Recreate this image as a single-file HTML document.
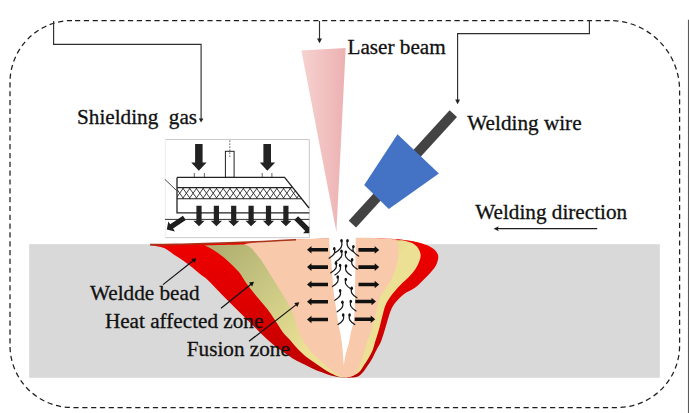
<!DOCTYPE html>
<html>
<head>
<meta charset="utf-8">
<style>
html,body{margin:0;padding:0;background:#fff;}
body{width:689px;height:413px;overflow:hidden;position:relative;}
svg{position:absolute;left:0;top:0;display:block;}
text{font-family:"Liberation Serif",serif;font-size:21.2px;fill:#111;stroke:#111;stroke-width:0.3px;}
</style>
</head>
<body>
<svg width="689" height="413" viewBox="0 0 689 413">
<defs>
  <linearGradient id="laser" x1="0" y1="0" x2="1" y2="0">
    <stop offset="0" stop-color="#f6d2cf"/>
    <stop offset="1" stop-color="#ecb1b2"/>
  </linearGradient>
  <linearGradient id="redg" gradientUnits="userSpaceOnUse" x1="0" y1="250" x2="0" y2="377">
    <stop offset="0" stop-color="#ec0000"/>
    <stop offset="0.4" stop-color="#de0000"/>
    <stop offset="1" stop-color="#bc0000"/>
  </linearGradient>
  <linearGradient id="olive" gradientUnits="userSpaceOnUse" x1="215" y1="250" x2="310" y2="345">
    <stop offset="0" stop-color="#b1b070"/>
    <stop offset="0.45" stop-color="#c8c682"/>
    <stop offset="1" stop-color="#ebe094"/>
  </linearGradient>
</defs>

<!-- right edge gray line -->
<line x1="688.5" y1="19.8" x2="688.5" y2="413" stroke="#5a5a5a" stroke-width="1.1"/>

<!-- dashed rounded border -->
<path d="M72,20.5 H609.6 A70,70 0 0 1 679.6,90.5 V345.5 A62,62 0 0 1 617.6,407.5 H72 A62,62 0 0 1 10,345.5 V82.5 A62,62 0 0 1 72,20.5 Z" fill="none" stroke="#1e1e1e" stroke-width="1.25" stroke-dasharray="5.2 3.625" stroke-dashoffset="5.8"/>

<!-- connectors -->
<polyline points="53.6,21 53.6,44.3 201.1,44.3 201.1,120" fill="none" stroke="#2e2e2e" stroke-width="1.15"/>
<path d="M198.8,118.4 L203.4,118.4 L201.1,122.6 Z" fill="#222"/>
<polyline points="589.4,21 589.4,33.6 457.6,33.6 457.6,100.5" fill="none" stroke="#2e2e2e" stroke-width="1.15"/>
<path d="M455.2,99.6 L460,99.6 L457.6,104.3 Z" fill="#222"/>
<line x1="319.5" y1="21" x2="319.5" y2="39.5" stroke="#2e2e2e" stroke-width="1.15"/>
<path d="M317,38.4 L322,38.4 L319.5,43.2 Z" fill="#222"/>

<!-- labels -->
<text x="347.5" y="53.8" transform="matrix(1,0,0,1.03,0,-1.61)">Laser beam</text>
<text x="77" y="124" transform="matrix(1,0,0,1.03,0,-3.72)" xml:space="preserve">Shielding  gas</text>
<text x="467.3" y="129.6" transform="matrix(1,0,0,1.03,0,-3.89)">Welding wire</text>
<text x="475.2" y="218.7" transform="matrix(1,0,0,1.03,0,-6.56)">Welding direction</text>

<!-- welding direction arrow -->
<line x1="497" y1="228.7" x2="597.2" y2="228.7" stroke="#1e1e1e" stroke-width="1.3"/>
<path d="M493.6,228.7 L498.8,226.2 L497.6,228.7 L498.8,231.2 Z" fill="#1a1a1a"/>

<!-- laser cone -->
<path d="M301.4,50.5 L345.7,48 L336.4,232 Z" fill="url(#laser)"/>

<!-- base plate -->
<rect x="29.2" y="244.2" width="630.6" height="133.6" fill="#d9d9d9"/>

<!-- weld -->
<path d="M147.0,244.9 C151.7,244.8 165.3,244.6 175.0,244.4 C184.7,244.2 191.7,244.0 205.0,243.6 C218.3,243.2 239.2,242.6 255.0,241.9 C270.8,241.2 283.3,240.2 300.0,239.6 C316.7,238.9 339.3,238.1 355.0,238.0 C370.7,237.9 385.7,238.6 394.0,238.9 C402.3,239.2 403.2,239.8 405.0,240.0 C406.9,240.3 412.9,241.1 416.6,242.0 C420.3,242.9 424.4,244.1 427.3,245.3 C430.2,246.5 432.2,247.8 434.0,249.3 C435.8,250.9 437.2,252.8 437.9,254.6 C438.5,256.4 438.3,258.0 437.9,260.0 C437.5,262.0 436.6,264.4 435.3,266.6 C434.0,268.8 432.0,271.1 430.0,273.3 C428.0,275.5 425.8,277.6 423.3,280.0 C420.9,282.4 418.6,285.1 415.3,287.5 C412.0,289.9 406.8,291.9 403.5,294.4 C400.2,296.9 397.7,299.7 395.6,302.3 C393.5,304.9 392.2,307.3 390.9,310.2 C389.6,313.1 388.9,316.2 387.8,319.6 C386.8,323.0 385.7,327.0 384.6,330.6 C383.5,334.2 382.3,338.3 381.0,341.5 C379.7,344.7 378.0,347.1 376.6,349.7 C375.2,352.3 374.2,354.8 372.8,357.4 C371.4,360.0 369.5,362.8 367.9,365.2 C366.3,367.6 364.9,370.1 363.1,372.0 C361.3,373.9 359.8,375.8 357.3,376.8 C354.8,377.8 349.6,377.6 348.0,377.8 C346.6,377.7 342.7,377.7 339.8,377.3 C336.9,376.9 333.8,376.3 330.8,375.5 C327.8,374.7 324.9,373.4 321.9,372.3 C318.9,371.2 315.9,370.0 312.9,368.7 C309.9,367.4 307.0,365.8 304.0,364.3 C301.0,362.8 297.7,361.4 295.0,359.8 C292.3,358.2 290.3,356.8 287.6,355.0 C284.9,353.2 281.8,351.1 278.9,349.0 C276.0,346.9 273.2,344.7 270.2,342.1 C267.2,339.5 264.2,336.6 261.0,333.5 C257.8,330.4 255.1,327.7 251.0,323.6 C246.9,319.5 241.2,313.9 236.3,309.0 C231.4,304.1 226.5,299.2 221.8,294.5 C217.1,289.8 211.9,283.9 208.3,280.5 C204.7,277.1 202.7,276.2 200.0,274.0 C197.3,271.8 194.3,269.2 192.0,267.3 C189.7,265.4 188.0,264.3 186.0,262.8 C184.0,261.3 182.0,259.9 180.0,258.5 C178.0,257.1 175.8,255.9 174.0,254.7 C172.2,253.5 170.6,252.2 169.0,251.1 C167.4,250.0 166.2,248.9 164.6,248.2 C163.0,247.5 161.6,247.2 159.5,246.7 C157.4,246.2 154.4,245.7 152.3,245.4 C150.2,245.1 147.9,245.0 147.0,244.9 Z" fill="url(#redg)"/>
<path d="M339.0,376.8 C337.6,376.2 333.7,374.7 330.8,373.2 C327.9,371.7 324.9,369.8 321.9,367.8 C318.8,365.8 315.5,363.3 312.5,361.2 C309.5,359.1 306.8,357.4 304.0,355.0 C301.2,352.6 298.3,349.5 296.0,347.0 C293.7,344.5 292.1,342.4 290.0,340.0 C287.9,337.6 285.4,335.6 283.2,332.7 C280.9,329.8 278.8,325.9 276.5,322.5 C274.2,319.1 271.5,314.8 269.5,312.0 C267.5,309.2 266.9,308.5 264.4,305.5 C261.9,302.5 257.7,297.8 254.7,294.0 C251.7,290.2 248.8,286.6 246.2,283.0 C243.6,279.4 241.8,275.5 239.0,272.1 C236.2,268.7 232.6,265.4 229.4,262.4 C226.2,259.4 222.9,256.6 219.7,254.2 C216.5,251.8 212.6,249.3 210.0,247.9 C207.4,246.5 205.0,246.0 204.0,245.6 C208.3,245.3 223.7,245.2 240.0,244.6 C256.3,244.0 280.0,242.7 300.0,242.0 C320.0,241.3 342.7,240.4 360.0,240.2 C377.3,239.9 396.7,240.4 404.0,240.5 C405.4,241.0 410.3,242.1 412.6,243.3 C414.9,244.6 416.7,246.1 418.0,248.0 C419.3,249.9 420.4,252.4 420.6,254.6 C420.8,256.8 420.2,258.9 419.3,261.3 C418.4,263.8 417.1,266.6 415.3,269.3 C413.5,272.0 411.1,274.7 408.6,277.3 C406.1,279.9 403.3,281.9 400.4,285.0 C397.4,288.1 393.4,292.6 390.9,296.0 C388.4,299.4 386.8,302.1 385.4,305.5 C384.0,308.9 383.4,312.6 382.3,316.5 C381.2,320.4 380.2,325.1 379.1,329.0 C378.0,332.9 376.8,336.6 375.7,340.0 C374.6,343.4 373.9,346.8 372.8,349.7 C371.7,352.6 370.4,354.8 368.9,357.4 C367.4,360.0 365.6,362.8 364.0,365.2 C362.4,367.6 361.4,370.1 359.2,372.0 C357.0,373.9 353.4,375.7 351.0,376.6 C348.6,377.5 347.0,377.5 345.0,377.5 C343.0,377.5 340.0,376.9 339.0,376.8 Z" fill="url(#olive)"/>
<path d="M342.0,376.5 C341.0,376.0 338.0,374.8 336.0,373.5 C334.0,372.2 332.3,370.9 330.0,369.0 C327.7,367.1 324.8,364.5 322.0,362.0 C319.2,359.5 315.7,356.8 313.0,354.0 C310.3,351.2 308.0,347.8 306.0,345.0 C304.0,342.2 302.4,339.7 301.0,337.0 C299.6,334.3 299.1,332.8 297.8,329.0 C296.5,325.2 294.9,318.7 293.4,314.5 C291.8,310.3 290.1,307.1 288.5,304.0 C286.9,300.9 285.6,299.1 283.6,295.8 C281.6,292.5 278.7,288.1 276.3,284.2 C273.9,280.3 271.4,276.5 269.0,272.6 C266.6,268.7 264.1,264.4 261.8,261.0 C259.5,257.6 256.7,254.6 255.0,252.5 C253.3,250.4 252.8,249.5 251.5,248.3 C250.2,247.1 248.7,246.1 247.3,245.5 C245.9,244.9 243.7,244.8 243.0,244.6 C245.5,244.0 248.5,242.8 258.0,242.0 C267.5,241.2 283.8,240.0 300.0,239.3 C316.2,238.6 341.7,237.9 355.0,237.7 C368.3,237.5 373.2,237.9 380.0,238.2 C386.8,238.5 393.3,239.1 396.0,239.3 C396.4,240.4 397.9,242.6 398.3,245.0 C398.7,247.4 398.8,250.5 398.5,254.0 C398.2,257.5 397.6,262.0 396.5,266.0 C395.4,270.0 393.8,274.3 392.0,278.0 C390.2,281.7 388.0,284.7 386.0,288.0 C384.0,291.3 381.6,293.4 379.9,297.6 C378.2,301.8 377.3,308.1 376.0,313.3 C374.7,318.5 373.4,324.4 372.0,329.0 C370.6,333.6 368.7,337.6 367.5,341.0 C366.3,344.4 365.9,346.6 365.0,349.7 C364.1,352.8 363.2,356.2 362.1,359.4 C361.0,362.6 359.5,366.4 358.2,369.0 C356.9,371.6 356.1,373.4 354.4,374.8 C352.7,376.2 350.1,376.9 348.0,377.2 C345.9,377.5 343.0,376.6 342.0,376.5 Z" fill="#f8caab"/>
<path d="M150.0,244.6 C154.2,244.6 165.8,244.6 175.0,244.4 C184.2,244.2 191.7,244.0 205.0,243.6 C218.3,243.2 242.5,242.3 255.0,241.8 C267.5,241.3 273.2,240.8 280.0,240.5 C286.8,240.2 293.3,239.9 296.0,239.8" fill="none" stroke="#a8321a" stroke-width="1.6"/>
<path d="M329.0,236.0 C329.1,238.3 329.4,245.7 329.8,250.0 C330.2,254.3 330.8,255.3 331.4,262.0 C332.0,268.7 332.7,282.3 333.5,290.0 C334.3,297.7 335.1,302.2 336.0,308.0 C336.9,313.8 337.8,320.5 338.6,325.0 C339.4,329.5 340.0,331.8 340.6,335.0 C341.2,338.2 341.6,340.7 342.0,344.0 C342.4,347.3 342.7,351.4 343.0,355.0 C343.3,358.6 343.7,363.8 343.8,365.5 C344.1,363.8 344.7,358.6 345.5,355.0 C346.3,351.4 347.7,347.8 348.6,344.0 C349.5,340.2 350.2,335.7 351.0,332.0 C351.8,328.3 352.9,325.7 353.5,322.0 C354.1,318.3 354.4,315.3 354.6,310.0 C354.9,304.7 354.9,298.0 355.0,290.0 C355.1,282.0 355.4,268.7 355.5,262.0 C355.6,255.3 355.6,254.3 355.7,250.0 C355.8,245.7 355.8,238.3 355.8,236.0 Z" fill="#fff"/>

<!-- shielding gas inset -->
<g>
  <rect x="165.3" y="139.5" width="144" height="98.2" fill="#fff"/>
  <path d="M165.3,139.5 H309.3 V237.7 H165.3" fill="none" stroke="#c4c4c4" stroke-width="0.9"/>
  <line x1="165.3" y1="139.5" x2="165.3" y2="237.7" stroke="#ebebeb" stroke-width="0.9"/>
  <!-- big arrows -->
  <path d="M195.1,144.1 L202.6,144.1 L202.6,162.6 L206.6,162.6 L198.85,170.7 L191.2,162.6 L195.1,162.6 Z" fill="#222"/>
  <path d="M263.4,144.1 L271,144.1 L271,162.6 L275.2,162.6 L267.3,170.7 L259.8,162.6 L263.4,162.6 Z" fill="#222"/>
  <!-- ticks -->
  <path d="M194.3,173 V177.4 M204.4,173 V177.4 M262.2,173 V177.4 M271.9,173 V177.4" stroke="#555" stroke-width="0.9"/>
  <!-- tube -->
  <rect x="225.4" y="151.3" width="8.7" height="26.1" fill="#fff" stroke="#222" stroke-width="1"/>
  <line x1="229.8" y1="140.4" x2="229.8" y2="158" stroke="#444" stroke-width="0.9" stroke-dasharray="1.5 1.5"/>
  <!-- plate -->
  <clipPath id="bandclip"><path d="M177,187.6 L292.7,187.6 L301.9,198.8 L177,198.8 Z"/></clipPath>
  <path d="M169.0,187.6 L177.0,198.8 M177.0,187.6 L169.0,198.8 M175.7,187.6 L183.7,198.8 M183.7,187.6 L175.7,198.8 M182.4,187.6 L190.4,198.8 M190.4,187.6 L182.4,198.8 M189.1,187.6 L197.1,198.8 M197.1,187.6 L189.1,198.8 M195.8,187.6 L203.8,198.8 M203.8,187.6 L195.8,198.8 M202.5,187.6 L210.5,198.8 M210.5,187.6 L202.5,198.8 M209.2,187.6 L217.2,198.8 M217.2,187.6 L209.2,198.8 M215.9,187.6 L223.9,198.8 M223.9,187.6 L215.9,198.8 M222.6,187.6 L230.6,198.8 M230.6,187.6 L222.6,198.8 M229.3,187.6 L237.3,198.8 M237.3,187.6 L229.3,198.8 M236.0,187.6 L244.0,198.8 M244.0,187.6 L236.0,198.8 M242.7,187.6 L250.7,198.8 M250.7,187.6 L242.7,198.8 M249.4,187.6 L257.4,198.8 M257.4,187.6 L249.4,198.8 M256.1,187.6 L264.1,198.8 M264.1,187.6 L256.1,198.8 M262.8,187.6 L270.8,198.8 M270.8,187.6 L262.8,198.8 M269.5,187.6 L277.5,198.8 M277.5,187.6 L269.5,198.8 M276.2,187.6 L284.2,198.8 M284.2,187.6 L276.2,198.8 M282.9,187.6 L290.9,198.8 M290.9,187.6 L282.9,198.8 M289.6,187.6 L297.6,198.8 M297.6,187.6 L289.6,198.8 M296.3,187.6 L304.3,198.8 M304.3,187.6 L296.3,198.8 M303.0,187.6 L311.0,198.8 M311.0,187.6 L303.0,198.8" stroke="#2a2a2a" stroke-width="0.9" fill="none" clip-path="url(#bandclip)"/>
  <path d="M177,187.6 L292.7,187.6 M301.9,198.8 L177,198.8" fill="none" stroke="#222" stroke-width="1.1"/>
  <path d="M177,177.4 L284.6,177.4 L309,208" fill="none" stroke="#222" stroke-width="1.3"/>
  <path d="M177,177.4 L177,212.8 L309.3,212.8" fill="none" stroke="#222" stroke-width="1.3"/>
  <line x1="165" y1="219.4" x2="309.3" y2="219.4" stroke="#333" stroke-width="1"/>
  <line x1="164.8" y1="179.3" x2="176.5" y2="190.5" stroke="#333" stroke-width="0.9"/>
  <!-- lower arrows -->
  <g fill="#222">
    <path d="M196.4,205.7 h5.2 v15 h3 l-5.6,5.6 l-5.6,-5.6 h3 z"/>
    <path d="M213.8,205.7 h5.2 v15 h3 l-5.6,5.6 l-5.6,-5.6 h3 z"/>
    <path d="M231.1,205.7 h5.2 v15 h3 l-5.6,5.6 l-5.6,-5.6 h3 z"/>
    <path d="M248.5,205.7 h5.2 v15 h3 l-5.6,5.6 l-5.6,-5.6 h3 z"/>
    <path d="M265.9,205.7 h5.2 v15 h3 l-5.6,5.6 l-5.6,-5.6 h3 z"/>
    <path d="M283.3,205.7 h5.2 v15 h3 l-5.6,5.6 l-5.6,-5.6 h3 z"/>
  </g>
  <!-- diagonal arrows -->
  <clipPath id="insetclip"><rect x="165.3" y="139.5" width="144" height="98.2"/></clipPath>
  <path d="M185.79,220.06 L173.07,228.55 L174.95,231.38 L166.80,229.60 L168.30,221.39 L170.18,224.22 L182.91,215.74 Z" fill="#1e1e1e"/>
  <path d="M298.11,216.19 L309.07,227.15 L311.26,224.96 L311.40,233.30 L303.06,233.16 L305.25,230.97 L294.29,220.01 Z" fill="#1e1e1e" clip-path="url(#insetclip)"/>
</g>

<!-- wire and nozzle -->
<line x1="453.3" y1="113.6" x2="352.4" y2="224.2" stroke="#434343" stroke-width="10"/>
<path d="M397.5,134.2 L438.9,173.4 L388.8,208.9 L364.2,184.9 Z" fill="#4472c4"/>

<!-- weld arrows -->
<g fill="#111">
  <path d="M328,248 H311.5 V246 L307,249.8 L311.5,253.6 V251.6 H328 Z"/>
  <path d="M328,265.3 H311.5 V263.3 L307,267.1 L311.5,270.9 V268.9 H328 Z"/>
  <path d="M328,282.7 H311.5 V280.7 L307,284.5 L311.5,288.3 V286.3 H328 Z"/>
  <path d="M328,300 H311.5 V298 L307,301.8 L311.5,305.6 V303.6 H328 Z"/>
  <path d="M328,317.7 H311.5 V315.7 L307,319.5 L311.5,323.3 V321.3 H328 Z"/>
  <path d="M358.4,248.1 H374.7 V246.1 L379.2,249.9 L374.7,253.7 V251.7 H358.4 Z"/>
  <path d="M358.4,265.3 H374.7 V263.3 L379.2,267.1 L374.7,270.9 V268.9 H358.4 Z"/>
  <path d="M358.5,282.7 H374.7 V280.7 L379.2,284.5 L374.7,288.3 V286.3 H358.5 Z"/>
  <path d="M355.3,299.7 H371.5 V297.7 L376,301.5 L371.5,305.3 V303.3 H355.3 Z"/>
  <path d="M354.7,317.5 H370.7 V315.5 L375.2,319.3 L370.7,323.1 V321.1 H354.7 Z"/>
</g>

<!-- squiggles -->
<path d="M341.5,240.7 C342.8,246.3 341.3,248.7 334.7,253.0 M347.5,240.7 C346.2,245.8 347.7,248.1 353.7,252.1 M334.3,248.7 C335.6,253.0 334.1,254.9 329.1,258.2 M353.4,246.6 C352.1,250.9 353.6,252.8 358.6,256.1 M341.5,251.3 C342.8,256.0 341.3,258.1 335.8,261.8 M345.8,252.1 C344.5,256.4 346.0,258.3 351.0,261.6 M352.1,259.7 C350.8,264.0 352.3,265.9 357.3,269.2 M336.0,263.3 C337.3,267.6 335.8,269.5 330.8,272.8 M340.1,265.4 C341.4,269.7 339.9,271.6 334.9,274.9 M346.0,266.0 C344.7,270.3 346.2,272.2 351.2,275.5 M337.7,277.0 C339.0,281.3 337.5,283.2 332.5,286.5 M345.8,279.4 C344.5,283.7 346.0,285.6 351.0,288.9 M351.7,288.3 C350.4,292.6 351.9,294.5 356.9,297.8 M340.1,290.8 C341.4,295.1 339.9,297.0 334.9,300.3 M342.4,302.3 C343.7,306.6 342.2,308.5 337.2,311.8 M350.8,301.4 C349.5,305.7 351.0,307.6 356.0,310.9 M343.2,315.0 C344.5,319.3 343.0,321.2 338.0,324.5 M349.6,315.0 C348.3,319.3 349.8,321.2 354.8,324.5" fill="none" stroke="#1a1a1a" stroke-width="1.25" stroke-linecap="round"/>
<g fill="#111"><ellipse cx="341.5" cy="240.7" rx="1.3" ry="1.7"/><ellipse cx="347.5" cy="240.7" rx="1.3" ry="1.7"/><ellipse cx="334.3" cy="248.7" rx="1.3" ry="1.7"/><ellipse cx="353.4" cy="246.6" rx="1.3" ry="1.7"/><ellipse cx="341.5" cy="251.3" rx="1.3" ry="1.7"/><ellipse cx="345.8" cy="252.1" rx="1.3" ry="1.7"/><ellipse cx="352.1" cy="259.7" rx="1.3" ry="1.7"/><ellipse cx="336.0" cy="263.3" rx="1.3" ry="1.7"/><ellipse cx="340.1" cy="265.4" rx="1.3" ry="1.7"/><ellipse cx="346.0" cy="266.0" rx="1.3" ry="1.7"/><ellipse cx="337.7" cy="277.0" rx="1.3" ry="1.7"/><ellipse cx="345.8" cy="279.4" rx="1.3" ry="1.7"/><ellipse cx="351.7" cy="288.3" rx="1.3" ry="1.7"/><ellipse cx="340.1" cy="290.8" rx="1.3" ry="1.7"/><ellipse cx="342.4" cy="302.3" rx="1.3" ry="1.7"/><ellipse cx="350.8" cy="301.4" rx="1.3" ry="1.7"/><ellipse cx="343.2" cy="315.0" rx="1.3" ry="1.7"/><ellipse cx="349.6" cy="315.0" rx="1.3" ry="1.7"/></g>

<!-- leader lines -->
<g stroke="#111" stroke-width="1.2" fill="none">
  <line x1="163" y1="284.6" x2="193.73" y2="260.31"/>
  <line x1="221" y1="308.2" x2="251.35" y2="283.92"/>
  <line x1="249" y1="341.3" x2="296.61" y2="304.38"/>
</g>
<g fill="#111">
  <path d="M196.40,258.20 L194.50,262.89 L191.40,258.97 Z"/>
  <path d="M254.00,281.80 L252.13,286.50 L249.00,282.60 Z"/>
  <path d="M299.30,302.30 L297.35,306.97 L294.29,303.02 Z"/>
</g>

<!-- weld labels -->
<text x="90" y="300.2" transform="matrix(1,0,0,1.03,0,-9.01)">Weldde bead</text>
<text x="104.9" y="327.6" transform="matrix(1,0,0,1.03,0,-9.83)">Heat affected zone</text>
<text x="186.8" y="356.5" transform="matrix(1,0,0,1.03,0,-10.70)">Fusion zone</text>

</svg>
</body>
</html>
